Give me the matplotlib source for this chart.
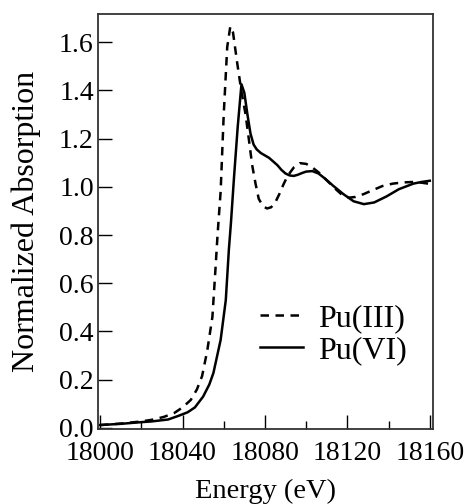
import numpy as np
import matplotlib
matplotlib.use('Agg')
import matplotlib.pyplot as plt
from matplotlib.ticker import MultipleLocator

plt.rcParams['font.family'] = ['Liberation Serif', 'DejaVu Serif']
plt.rcParams['font.size'] = 20

# Pu(III) - dashed
e3 = [18000, 18010, 18020, 18026, 18031, 18036, 18040, 18044, 18047, 18049.5,
      18052, 18054.5, 18056, 18057, 18058.5, 18060, 18061.7, 18063.2, 18064.5,
      18066.6, 18068.5, 18070.6, 18072.3, 18073.8, 18075.5, 18077, 18079, 18081,
      18083, 18085, 18087, 18089, 18091, 18094, 18097, 18100, 18103, 18106,
      18109, 18112, 18115, 18118, 18121, 18124, 18128, 18132, 18137, 18142,
      18147, 18152, 18156, 18160]
a3 = [0.012, 0.018, 0.027, 0.035, 0.046, 0.062, 0.085, 0.116, 0.16, 0.215,
      0.32, 0.46, 0.66, 0.80, 0.98, 1.30, 1.58, 1.665, 1.64,
      1.51, 1.40, 1.30, 1.19, 1.09, 1.01, 0.95, 0.92, 0.91,
      0.915, 0.935, 0.97, 1.01, 1.045, 1.08, 1.098, 1.095, 1.08, 1.06,
      1.035, 1.01, 0.985, 0.962, 0.955, 0.958, 0.97, 0.985, 1.003, 1.013,
      1.018, 1.02, 1.017, 1.012]

# Pu(VI) - solid
e6 = [18000, 18010, 18020, 18025, 18033, 18038, 18042.5, 18046, 18050, 18053,
      18055, 18058.5, 18061, 18062.5, 18063.5, 18065, 18066.8, 18068.6, 18070,
      18071.5, 18073, 18074.5, 18076, 18078, 18080, 18082, 18084, 18086,
      18088, 18090, 18092, 18094, 18096, 18098, 18100, 18103, 18106, 18109,
      18113, 18118, 18123, 18128, 18133, 18139, 18145, 18152, 18156, 18160]
a6 = [0.012, 0.017, 0.024, 0.027, 0.035, 0.05, 0.065, 0.085, 0.13, 0.18,
      0.228, 0.365, 0.53, 0.74, 0.85, 1.04, 1.25, 1.425, 1.39,
      1.30, 1.22, 1.175, 1.155, 1.14, 1.13, 1.12, 1.105, 1.09,
      1.07, 1.055, 1.047, 1.045, 1.05, 1.057, 1.063, 1.065, 1.055, 1.035,
      1.005, 0.97, 0.94, 0.928, 0.935, 0.96, 0.99, 1.013, 1.02, 1.025]

fig = plt.figure(figsize=(4.69, 5.04), dpi=100)
ax = fig.add_axes([0.209, 0.149, 0.714, 0.823])

ax.plot(e3, a3, color='black', linestyle='--', linewidth=1.8, dashes=(3.4, 2.6),
        label='Pu(III)')
ax.plot(e6, a6, color='black', linestyle='-', linewidth=1.8, label='Pu(VI)')

ax.set_xlim(17999, 18161.5)
ax.set_ylim(-0.004, 1.716)
ax.set_xticks(range(18000, 18161, 40))
ax.xaxis.set_minor_locator(MultipleLocator(20))
ax.set_yticks(np.arange(0, 1.61, 0.2))
ax.set_yticklabels(['%.1f' % v for v in np.arange(0, 1.61, 0.2)])
ax.tick_params(which='major', direction='in', length=10, width=1)
ax.tick_params(which='minor', direction='in', length=6, width=1)
ax.tick_params(axis='x', pad=9)
ax.tick_params(axis='y', pad=3)
for s in ax.spines.values():
    s.set_linewidth(1.3)
    s.set_color('#333333')

ax.set_xlabel('Energy (eV)', fontsize=20.5, labelpad=9)
ax.set_ylabel('Normalized Absorption', fontsize=23, labelpad=13)

ax.legend(loc='lower right', bbox_to_anchor=(0.979, 0.107), frameon=False,
          fontsize=23, handlelength=1.36, handletextpad=0.46,
          labelspacing=0.1, borderaxespad=0.2)

fig.savefig('out.png', dpi=100)
